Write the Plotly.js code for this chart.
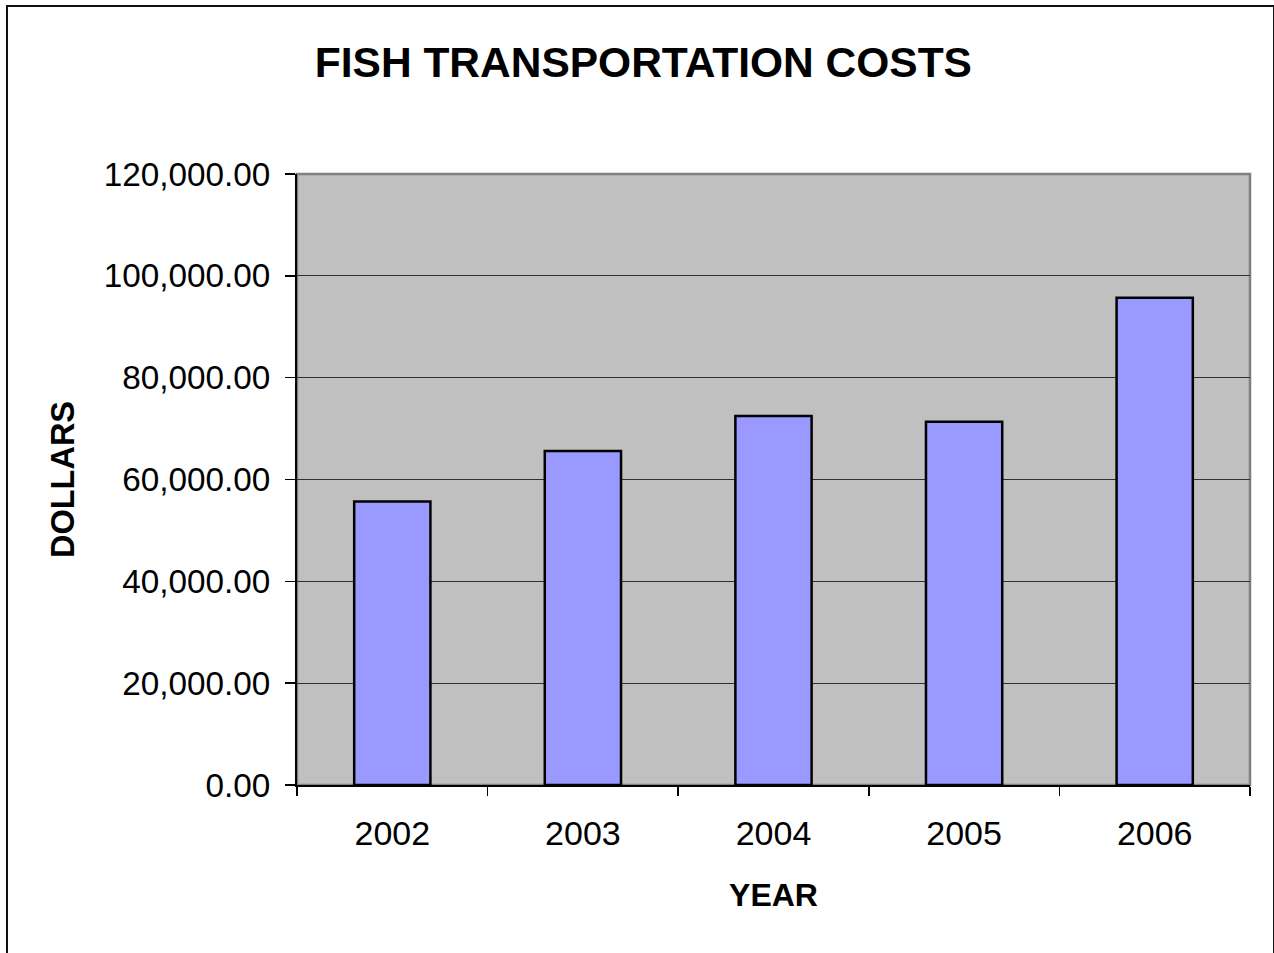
<!DOCTYPE html>
<html>
<head>
<meta charset="utf-8">
<script src="https://cdn.plot.ly/plotly-3.0.1.min.js"></script>
<style>
  html, body { margin: 0; padding: 0; background: #fff; }
  #wrap { position: relative; width: 1274px; height: 953px; overflow: hidden; }
  #chart { position: absolute; left: 0; top: 0; width: 1274px; height: 953px; }
  #frame { position: absolute; left: 6px; top: 5px; width: 1265px; height: 990px;
           border: 2px solid #111; pointer-events: none; }
</style>
</head>
<body>
<div id="wrap">
  <div id="chart"></div>
  <div id="frame"></div>
</div>
<script>
const years = ["2002", "2003", "2004", "2005", "2006"];
const costs = [55700, 65600, 72450, 71350, 95700];
const yTickVals = [0, 20000, 40000, 60000, 80000, 100000, 120000];

const FONT = "Arial, 'Liberation Sans', sans-serif";

const trace = {
  type: "bar",
  x: years,
  y: costs,
  marker: { color: "#9999FF", line: { color: "#000000", width: 2.5 } },
  hoverinfo: "x+y"
};

const layout = {
  width: 1274,
  height: 953,
  margin: { l: 297, r: 24, t: 174, b: 168, pad: 0 },
  paper_bgcolor: "#FFFFFF",
  plot_bgcolor: "#C0C0C0",
  bargap: 0.6,
  showlegend: false,
  font: { family: FONT, color: "#000000", size: 32 },
  title: {
    text: "<b>FISH TRANSPORTATION COSTS</b>",
    font: { family: FONT, size: 42.5, color: "#000000" },
    xref: "container", x: 0.505, xanchor: "center",
    yref: "container", y: 0.935, yanchor: "middle"
  },
  xaxis: {
    type: "category",
    showline: true, linecolor: "#000000", linewidth: 2,
    ticks: "outside", tickson: "boundaries", ticklen: 9, tickwidth: 1.5, tickcolor: "#000000",
    tickfont: { family: FONT, size: 34, color: "#000000" },
    ticklabelstandoff: 17,
    showgrid: false, zeroline: false,
    automargin: false,
    title: { text: "<b>YEAR</b>", font: { family: FONT, size: 32, color: "#000000" }, standoff: 33 }
  },
  yaxis: {
    range: [0, 120000],
    tickvals: yTickVals,
    tickformat: ",.2f",
    showline: true, linecolor: "#000000", linewidth: 2,
    ticks: "outside", ticklen: 10, tickwidth: 1.5, tickcolor: "#000000",
    tickfont: { family: FONT, size: 33.3, color: "#000000" },
    ticklabelstandoff: 8,
    showgrid: true, gridcolor: "#303030", gridwidth: 1,
    zeroline: false,
    automargin: false,
    title: { text: "<b>DOLLARS</b>", font: { family: FONT, size: 32.5, color: "#000000" }, standoff: 19 }
  },
  shapes: [
    { type: "rect", xref: "paper", yref: "paper", x0: 0, x1: 1, y0: 0, y1: 1,
      line: { color: "#808080", width: 2.5 }, fillcolor: "rgba(0,0,0,0)", layer: "below" }
  ]
};

Plotly.newPlot("chart", [trace], layout, { displayModeBar: false, staticPlot: true });
</script>
</body>
</html>
